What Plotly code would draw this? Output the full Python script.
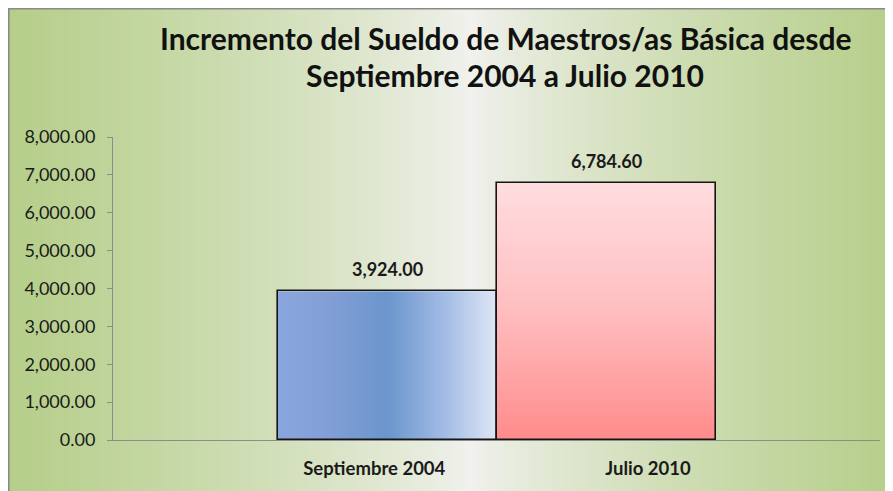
import base64
import struct
import zlib

import plotly.graph_objects as go

# ---- data ----
categories = ["Septiembre 2004", "Julio 2010"]
values = [3924.00, 6784.60]
y_tick_values = [0, 1000, 2000, 3000, 4000, 5000, 6000, 7000, 8000]
title_lines = ["Incremento del Sueldo de Maestros/as Básica desde",
               "Septiembre 2004 a Julio 2010"]

# ---- styles ----
FONT = "Lato, Open Sans, sans-serif"
# gradient stops per bar: (direction, [(pos, rgb), ...])
bar_gradients = [
    ("h", [(0.0, (138, 166, 222)), (0.2, (132, 160, 215)), (0.5, (108, 150, 205)),
           (0.75, (160, 186, 228)), (1.0, (221, 230, 246))]),
    ("v", [(0.0, (255, 221, 223)), (0.5, (255, 190, 192)), (1.0, (255, 140, 140))]),
]

# ---- layout geometry (figure pixels; page places the figure at 8,8) ----
W, H = 885, 483
L, R, T, B = 105, 13, 129, 51
PW = W - L - R
PH = H - T - B


def px_x(p):
    return (p - L) / PW


def px_y(p):
    return (H - B - p) / PH


def lerp_stops(stops, t):
    for (p0, c0), (p1, c1) in zip(stops, stops[1:]):
        if p0 <= t <= p1:
            f = (t - p0) / (p1 - p0) if p1 > p0 else 0
            return tuple(round(c0[k] + (c1[k] - c0[k]) * f) for k in range(3))
    return stops[-1][1]


def gradient_png(direction, stops, n=96):
    w, h = (n, 1) if direction == "h" else (1, n)
    raw = b""
    for y in range(h):
        row = b"\x00"
        for x in range(w):
            t = (x if direction == "h" else y) / (n - 1)
            row += bytes(lerp_stops(stops, t))
        raw += row

    def chunk(tag, data):
        c = tag + data
        return struct.pack(">I", len(data)) + c + struct.pack(">I", zlib.crc32(c) & 0xffffffff)

    png = b"\x89PNG\r\n\x1a\n"
    png += chunk(b"IHDR", struct.pack(">IIBBBBB", w, h, 8, 2, 0, 0, 0))
    png += chunk(b"IDAT", zlib.compress(raw))
    png += chunk(b"IEND", b"")
    return "data:image/png;base64," + base64.b64encode(png).decode()


xpos = list(range(len(categories)))
label_shift = [-0.06, 0.19]

fig = go.Figure()
fig.add_trace(go.Bar(
    x=xpos, y=values, width=1,
    marker=dict(color="rgba(0,0,0,0)", line=dict(color="#151515", width=1.6)),
    hoverinfo="y", showlegend=False,
))

# gradient fills of the bars (images placed in data coordinates, under the bar outlines)
images = []
for i, v, (direction, stops) in zip(xpos, values, bar_gradients):
    images.append(dict(source=gradient_png(direction, stops), xref="x", yref="y",
                       x=i - 0.5, y=v, sizex=1, sizey=v, xanchor="left", yanchor="top",
                       sizing="stretch", layer="below"))

# value labels
for i, v in zip(xpos, values):
    fig.add_annotation(x=i, y=v, text=f"<b>{v:,.2f}</b>", showarrow=False,
                       yshift=22, font=dict(family=FONT, size=18, color="#1a1a1a"))

# title lines
for line, cy in zip(title_lines, [30, 67]):
    fig.add_annotation(xref="paper", yref="paper", x=px_x(497), y=px_y(cy),
                       xanchor="center", yanchor="middle", showarrow=False,
                       text="<b>" + line + "</b>",
                       font=dict(family=FONT, size=30, color="#111111"))

# background gradient (horizontal, green edges, light centre)
shapes = []
edge = (181, 206, 137)
centre = (242, 242, 240)
cx = 462
step = 3
p = 0
while p < W:
    mid = p + step / 2
    d = abs(mid - cx) / (cx if mid < cx else W + 8 - cx)
    t = min(1.0, d) ** 0.75
    col = tuple(round(centre[k] + (edge[k] - centre[k]) * t) for k in range(3))
    shapes.append(dict(type="rect", xref="paper", yref="paper",
                       x0=px_x(p), x1=px_x(p + step + 0.6),
                       y0=px_y(0), y1=px_y(H),
                       fillcolor="rgb(%d,%d,%d)" % col, line=dict(width=0), layer="below"))
    p += step
# frame (left and top edges)
shapes.append(dict(type="line", xref="paper", yref="paper",
                   x0=px_x(0.8), x1=px_x(0.8), y0=px_y(0), y1=px_y(H),
                   line=dict(color="#8a8a8a", width=1.6), layer="below"))
shapes.append(dict(type="line", xref="paper", yref="paper",
                   x0=px_x(0), x1=px_x(W), y0=px_y(0.8), y1=px_y(0.8),
                   line=dict(color="#8a8a8a", width=1.6), layer="below"))

fig.update_layout(
    width=W, height=H,
    margin=dict(l=L, r=R, t=T, b=B, autoexpand=False),
    paper_bgcolor="white", plot_bgcolor="rgba(0,0,0,0)",
    shapes=shapes, images=images,
    font=dict(family=FONT, color="#1a1a1a"),
    bargap=0,
)
fig.update_yaxes(range=[0, 8000], tickvals=y_tick_values, tickformat=",.2f",
                 showgrid=False, zeroline=False, showline=True, linecolor="#8c8c8c", linewidth=1,
                 ticks="outside", ticklen=5, tickcolor="#8c8c8c",
                 tickfont=dict(size=18, color="#1a1a1a"), ticklabelstandoff=8)
fig.update_xaxes(range=[-1.253, 2.249], tickvals=[i + s for i, s in zip(xpos, label_shift)],
                 ticktext=["<b>" + c + "</b>" for c in categories],
                 showgrid=False, zeroline=False, showline=True, linecolor="#8c8c8c", linewidth=1,
                 ticks="", tickfont=dict(size=18.5, color="#1a1a1a"), ticklabelstandoff=12)

fig.write_html("out.html")
